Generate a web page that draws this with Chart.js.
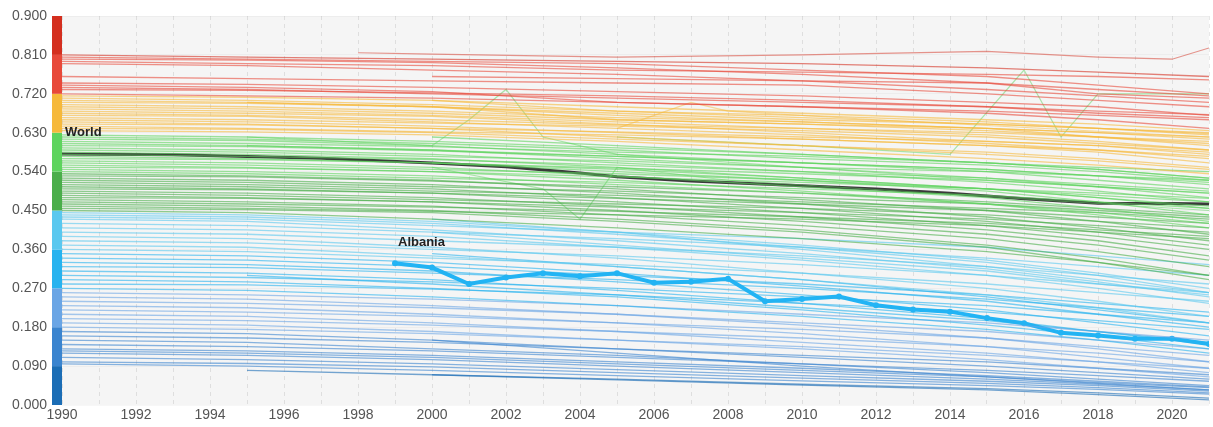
<!DOCTYPE html>
<html>
<head>
<meta charset="utf-8">
<script src="https://cdn.jsdelivr.net/npm/chart.js@4.4.1/dist/chart.umd.min.js"></script>
<style>
    html, body { margin: 0; padding: 0; background: #fff; }
    #wrap { width: 1213px; height: 427px; }
</style>
</head>
<body>
<div id="wrap"><canvas id="chart" width="1213" height="427"></canvas></div>
<script>
// years at which the background country series are sampled
const KEY_YEARS = [1990, 1995, 2000, 2005, 2010, 2015, 2018, 2021];

const Y_TICKS = [0, 0.09, 0.18, 0.27, 0.36, 0.45, 0.54, 0.63, 0.72, 0.81, 0.9];
const BAND_COLORS = ['#1b6db5', '#3a84cf', '#6aa5e5', '#27b3ef', '#5ac8ef',
                     '#4aae4a', '#5ed45e', '#f6b93b', '#e8493a', '#d42f1f'];

const worldYears = [1990, 1993, 1997, 2000, 2002, 2004, 2005, 2007, 2010, 2012, 2014, 2016, 2018, 2020, 2021];
const worldValues = [0.581, 0.579, 0.571, 0.560, 0.551, 0.537, 0.528, 0.518, 0.507, 0.500, 0.490, 0.477, 0.467, 0.466, 0.465];

const albaniaYears = [1999, 2000, 2001, 2002, 2003, 2004, 2005, 2006, 2007, 2008, 2009, 2010,
                      2011, 2012, 2013, 2014, 2015, 2016, 2017, 2018, 2019, 2020, 2021];
const albaniaValues = [0.328, 0.318, 0.280, 0.295, 0.305, 0.298, 0.305, 0.283, 0.285, 0.292, 0.240, 0.245,
                       0.251, 0.231, 0.221, 0.216, 0.201, 0.189, 0.167, 0.161, 0.153, 0.153, 0.141];

// other countries, values at KEY_YEARS (null = no data yet)
const redCountries = [
    [0.810, 0.805, 0.800, 0.795, 0.790, 0.780, 0.770, 0.760],
    [0.805, 0.800, 0.795, 0.790, 0.775, 0.760, 0.740, 0.720],
    [0.800, 0.798, 0.792, 0.780, 0.765, 0.745, 0.730, 0.715],
    [0.795, 0.790, 0.785, 0.775, 0.770, 0.765, 0.760, 0.752],
    [0.790, 0.785, 0.775, 0.765, 0.750, 0.730, 0.715, 0.700],
    [0.760, 0.755, 0.750, 0.745, 0.740, 0.720, 0.705, 0.690],
    [0.745, 0.742, 0.735, 0.725, 0.715, 0.700, 0.690, 0.670],
    [0.740, 0.735, 0.725, 0.700, 0.690, 0.680, 0.670, 0.660],
    [0.735, 0.730, 0.720, 0.710, 0.700, 0.690, 0.675, 0.665],
    [0.730, 0.728, 0.722, 0.715, 0.705, 0.690, 0.680, 0.672],
    [null, null, 0.760, 0.755, 0.750, 0.745, 0.720, 0.710]
];
const orangeCountries = [
    [0.720, 0.715, 0.710, 0.700, 0.690, 0.675, 0.660, 0.640],
    [0.715, 0.712, 0.705, 0.690, 0.675, 0.660, 0.650, 0.635],
    [0.710, 0.705, 0.695, 0.680, 0.670, 0.655, 0.640, 0.625],
    [0.705, 0.700, 0.690, 0.675, 0.660, 0.650, 0.640, 0.630],
    [0.700, 0.698, 0.690, 0.670, 0.655, 0.640, 0.620, 0.600],
    [0.695, 0.690, 0.680, 0.665, 0.655, 0.640, 0.630, 0.615],
    [0.690, 0.685, 0.675, 0.660, 0.650, 0.635, 0.620, 0.605],
    [0.685, 0.680, 0.670, 0.655, 0.640, 0.625, 0.610, 0.590],
    [0.680, 0.675, 0.668, 0.650, 0.630, 0.610, 0.600, 0.580],
    [0.675, 0.670, 0.660, 0.648, 0.640, 0.630, 0.620, 0.610],
    [0.670, 0.668, 0.655, 0.640, 0.625, 0.605, 0.590, 0.570],
    [0.665, 0.660, 0.652, 0.645, 0.635, 0.620, 0.605, 0.590],
    [0.660, 0.655, 0.645, 0.630, 0.615, 0.600, 0.585, 0.560],
    [0.655, 0.650, 0.640, 0.632, 0.620, 0.610, 0.600, 0.585],
    [0.650, 0.648, 0.640, 0.620, 0.600, 0.580, 0.565, 0.545],
    [0.645, 0.640, 0.632, 0.625, 0.615, 0.600, 0.590, 0.575],
    [0.640, 0.638, 0.630, 0.615, 0.600, 0.585, 0.570, 0.550],
    [0.635, 0.632, 0.625, 0.610, 0.590, 0.570, 0.555, 0.535],
    [null, 0.700, 0.690, 0.660, 0.650, 0.640, 0.630, 0.620],
    [null, null, 0.705, 0.680, 0.665, 0.650, 0.640, 0.628]
];
const greenCountries = [
    [0.625, 0.620, 0.610, 0.595, 0.580, 0.560, 0.545, 0.525],
    [0.620, 0.615, 0.605, 0.590, 0.570, 0.555, 0.540, 0.520],
    [0.615, 0.612, 0.600, 0.580, 0.560, 0.540, 0.520, 0.500],
    [0.610, 0.605, 0.598, 0.585, 0.575, 0.560, 0.550, 0.540],
    [0.605, 0.600, 0.590, 0.570, 0.550, 0.525, 0.505, 0.480],
    [0.600, 0.598, 0.588, 0.575, 0.560, 0.545, 0.530, 0.515],
    [0.595, 0.590, 0.580, 0.560, 0.540, 0.515, 0.495, 0.470],
    [0.590, 0.585, 0.575, 0.565, 0.550, 0.540, 0.530, 0.520],
    [0.585, 0.580, 0.570, 0.550, 0.525, 0.500, 0.480, 0.455],
    [0.580, 0.575, 0.568, 0.555, 0.540, 0.525, 0.510, 0.495],
    [0.575, 0.570, 0.560, 0.540, 0.520, 0.495, 0.470, 0.440],
    [0.570, 0.568, 0.560, 0.548, 0.535, 0.520, 0.505, 0.490],
    [0.565, 0.560, 0.550, 0.530, 0.505, 0.480, 0.455, 0.425],
    [0.560, 0.555, 0.545, 0.535, 0.520, 0.500, 0.485, 0.470],
    [0.555, 0.550, 0.540, 0.520, 0.495, 0.465, 0.440, 0.410],
    [0.550, 0.548, 0.540, 0.528, 0.515, 0.500, 0.490, 0.478],
    [0.545, 0.540, 0.530, 0.510, 0.490, 0.465, 0.445, 0.420],
    [0.540, 0.535, 0.525, 0.515, 0.500, 0.485, 0.470, 0.455],
    [0.535, 0.530, 0.520, 0.500, 0.475, 0.450, 0.425, 0.395],
    [0.530, 0.528, 0.518, 0.505, 0.490, 0.470, 0.455, 0.440],
    [0.525, 0.520, 0.510, 0.490, 0.465, 0.435, 0.410, 0.380],
    [0.520, 0.515, 0.505, 0.495, 0.480, 0.465, 0.450, 0.435],
    [0.515, 0.510, 0.500, 0.480, 0.455, 0.425, 0.400, 0.370],
    [0.510, 0.505, 0.495, 0.485, 0.470, 0.455, 0.445, 0.430],
    [0.505, 0.500, 0.490, 0.470, 0.445, 0.415, 0.390, 0.360],
    [0.500, 0.498, 0.490, 0.478, 0.465, 0.450, 0.435, 0.420],
    [0.495, 0.490, 0.480, 0.460, 0.435, 0.405, 0.380, 0.345],
    [0.490, 0.485, 0.475, 0.465, 0.455, 0.440, 0.425, 0.410],
    [0.485, 0.480, 0.470, 0.450, 0.425, 0.395, 0.370, 0.335],
    [0.480, 0.478, 0.470, 0.458, 0.445, 0.430, 0.415, 0.400],
    [0.475, 0.470, 0.460, 0.440, 0.415, 0.385, 0.355, 0.320],
    [0.470, 0.465, 0.458, 0.448, 0.435, 0.420, 0.405, 0.390],
    [0.465, 0.460, 0.450, 0.430, 0.405, 0.370, 0.340, 0.300],
    [0.460, 0.455, 0.448, 0.440, 0.430, 0.415, 0.400, 0.385],
    [0.455, 0.452, 0.445, 0.425, 0.400, 0.365, 0.330, 0.290],
    [null, 0.600, 0.590, 0.575, 0.560, 0.545, 0.530, 0.510],
    [null, null, 0.560, 0.545, 0.525, 0.500, 0.480, 0.460],
    [null, null, 0.620, 0.600, 0.580, 0.560, 0.545, 0.525]
];
const blueCountries = [
    [0.450, 0.445, 0.430, 0.410, 0.385, 0.355, 0.330, 0.300],
    [0.445, 0.440, 0.425, 0.400, 0.370, 0.335, 0.305, 0.270],
    [0.440, 0.435, 0.420, 0.395, 0.365, 0.330, 0.300, 0.260],
    [0.435, 0.430, 0.415, 0.400, 0.385, 0.365, 0.345, 0.325],
    [0.430, 0.425, 0.405, 0.380, 0.350, 0.315, 0.285, 0.250],
    [0.420, 0.415, 0.400, 0.385, 0.365, 0.340, 0.320, 0.300],
    [0.410, 0.405, 0.390, 0.365, 0.335, 0.300, 0.270, 0.235],
    [0.400, 0.395, 0.380, 0.365, 0.345, 0.320, 0.300, 0.280],
    [0.390, 0.385, 0.365, 0.340, 0.305, 0.270, 0.240, 0.205],
    [0.380, 0.375, 0.360, 0.345, 0.325, 0.300, 0.280, 0.260],
    [0.370, 0.365, 0.345, 0.320, 0.290, 0.255, 0.225, 0.190],
    [0.360, 0.355, 0.340, 0.325, 0.305, 0.280, 0.260, 0.240],
    [0.350, 0.345, 0.330, 0.305, 0.275, 0.240, 0.210, 0.180],
    [0.340, 0.335, 0.320, 0.300, 0.280, 0.255, 0.235, 0.215],
    [0.330, 0.325, 0.310, 0.285, 0.255, 0.220, 0.190, 0.160],
    [0.320, 0.318, 0.305, 0.290, 0.270, 0.245, 0.225, 0.205],
    [0.310, 0.305, 0.290, 0.265, 0.235, 0.200, 0.170, 0.140],
    [0.300, 0.295, 0.285, 0.270, 0.250, 0.230, 0.210, 0.190],
    [0.290, 0.285, 0.270, 0.250, 0.220, 0.185, 0.160, 0.130],
    [0.280, 0.278, 0.268, 0.255, 0.235, 0.215, 0.195, 0.175],
    [0.270, 0.265, 0.250, 0.230, 0.205, 0.175, 0.150, 0.120],
    [0.260, 0.255, 0.245, 0.230, 0.210, 0.190, 0.170, 0.150],
    [0.250, 0.245, 0.230, 0.210, 0.185, 0.155, 0.130, 0.100],
    [0.240, 0.235, 0.225, 0.210, 0.190, 0.170, 0.150, 0.130],
    [0.230, 0.225, 0.210, 0.190, 0.165, 0.135, 0.110, 0.085],
    [0.220, 0.215, 0.205, 0.190, 0.175, 0.155, 0.135, 0.115],
    [0.210, 0.205, 0.190, 0.170, 0.145, 0.120, 0.100, 0.075],
    [0.200, 0.195, 0.185, 0.170, 0.155, 0.135, 0.120, 0.100],
    [0.190, 0.185, 0.170, 0.150, 0.130, 0.105, 0.085, 0.065],
    [0.180, 0.175, 0.165, 0.150, 0.135, 0.115, 0.100, 0.085],
    [0.170, 0.165, 0.150, 0.130, 0.110, 0.090, 0.075, 0.060],
    [0.160, 0.155, 0.145, 0.130, 0.115, 0.100, 0.085, 0.070],
    [0.150, 0.145, 0.130, 0.115, 0.095, 0.075, 0.060, 0.045],
    [0.140, 0.135, 0.125, 0.110, 0.095, 0.080, 0.068, 0.055],
    [0.130, 0.125, 0.115, 0.100, 0.085, 0.068, 0.055, 0.042],
    [0.125, 0.120, 0.110, 0.095, 0.080, 0.065, 0.052, 0.040],
    [0.120, 0.115, 0.105, 0.090, 0.075, 0.060, 0.048, 0.035],
    [0.110, 0.105, 0.095, 0.082, 0.068, 0.055, 0.045, 0.032],
    [0.100, 0.096, 0.088, 0.075, 0.062, 0.050, 0.040, 0.028],
    [0.095, 0.090, 0.080, 0.068, 0.056, 0.045, 0.036, 0.025],
    [null, 0.300, 0.280, 0.255, 0.225, 0.195, 0.170, 0.145],
    [null, null, 0.350, 0.320, 0.290, 0.250, 0.220, 0.190],
    [null, null, 0.150, 0.120, 0.090, 0.065, 0.050, 0.035],
    [null, null, 0.400, 0.370, 0.340, 0.310, 0.280, 0.255],
    [null, null, 0.430, 0.400, 0.360, 0.320, 0.290, 0.260],
    [null, 0.080, 0.070, 0.060, 0.048, 0.038, 0.028, 0.016],
    [null, null, 0.070, 0.058, 0.046, 0.035, 0.024, 0.012]
];
// a few irregular series, as [year, value] pairs
const jumpyCountries = [
    [[1998, 0.815], [2000, 0.812], [2005, 0.805], [2010, 0.810], [2015, 0.818], [2018, 0.805], [2020, 0.800], [2021, 0.826]],
    [[1995, 0.620], [2000, 0.600], [2001, 0.660], [2002, 0.730], [2003, 0.620], [2005, 0.580], [2010, 0.550], [2015, 0.520], [2021, 0.490]],
    [[2005, 0.620], [2010, 0.600], [2014, 0.580], [2016, 0.775], [2017, 0.620], [2018, 0.720], [2021, 0.720]],
    [[2000, 0.550], [2003, 0.500], [2004, 0.430], [2005, 0.550], [2008, 0.520], [2021, 0.450]],
    [[2005, 0.640], [2007, 0.700], [2008, 0.680], [2012, 0.660], [2021, 0.620]]
];

function bandColor(v, alpha) {
    const i = Math.max(0, Math.min(BAND_COLORS.length - 1, Math.floor(v / 0.09 + 1e-9)));
    const hex = BAND_COLORS[i];
    const r = parseInt(hex.slice(1, 3), 16), g = parseInt(hex.slice(3, 5), 16), b = parseInt(hex.slice(5, 7), 16);
    return 'rgba(' + r + ',' + g + ',' + b + ',' + alpha + ')';
}

const datasets = [];
[redCountries, orangeCountries, greenCountries, blueCountries].forEach(group => {
    group.forEach(row => {
        const pts = [];
        row.forEach((v, i) => { if (v !== null) pts.push({ x: KEY_YEARS[i], y: v }); });
        datasets.push({ data: pts, borderColor: bandColor(pts[0].y, 0.6), borderWidth: 1.3, pointRadius: 0 });
    });
});
jumpyCountries.forEach(row => {
    const pts = row.map(p => ({ x: p[0], y: p[1] }));
    datasets.push({ data: pts, borderColor: bandColor(pts[0].y, 0.5), borderWidth: 1.2, pointRadius: 0 });
});
datasets.push({
    label: 'World',
    data: worldYears.map((y, i) => ({ x: y, y: worldValues[i] })),
    borderColor: '#3a3a3a', borderWidth: 3, pointRadius: 0
});
datasets.push({
    label: 'Albania',
    data: albaniaYears.map((y, i) => ({ x: y, y: albaniaValues[i] })),
    borderColor: '#22b4f5', backgroundColor: '#22b4f5', borderWidth: 4,
    pointRadius: 3, pointBorderWidth: 0
});

const areaPlugin = {
    id: 'area',
    beforeDraw(chart) {
        const { ctx, chartArea } = chart;
        ctx.save();
        ctx.fillStyle = '#f5f5f5';
        ctx.fillRect(chartArea.left, chartArea.top, chartArea.right - chartArea.left, chartArea.bottom - chartArea.top);
        ctx.restore();
    },
    afterDraw(chart) {
        const { ctx, chartArea } = chart;
        const y = chart.scales.y;
        ctx.save();
        // colour key strip
        for (let i = 0; i < BAND_COLORS.length; i++) {
            const top = y.getPixelForValue(Y_TICKS[i + 1]);
            const bottom = y.getPixelForValue(Y_TICKS[i]);
            ctx.fillStyle = BAND_COLORS[i];
            ctx.fillRect(chartArea.left - 10, top, 10, bottom - top);
        }
        // series names
        ctx.font = 'bold 13px "Liberation Sans", Arial, sans-serif';
        ctx.fillStyle = '#222';
        ctx.textBaseline = 'middle';
        chart.data.datasets.forEach((ds, i) => {
            if (!ds.label) return;
            const pt = chart.getDatasetMeta(i).data[0];
            ctx.fillText(ds.label, pt.x + 3, pt.y - 21);
        });
        ctx.restore();
    }
};

new Chart(document.getElementById('chart'), {
    type: 'line',
    data: { datasets: datasets },
    options: {
        responsive: false,
        animation: false,
        layout: { padding: { top: 16, right: -4, left: 0, bottom: 0 } },
        plugins: { legend: { display: false }, tooltip: { enabled: false } },
        elements: { line: { tension: 0 } },
        scales: {
            x: {
                type: 'linear',
                min: 1990,
                max: 2021,
                border: { display: false, dash: [4, 4] },
                grid: { color: 'rgba(0,0,0,0.09)', drawTicks: false },
                afterBuildTicks(scale) {
                    const t = [];
                    for (let yr = 1990; yr <= 2021; yr++) t.push({ value: yr });
                    scale.ticks = t;
                },
                afterFit(scale) {
                    scale.height = 22;
                    scale.paddingLeft = 0;
                    scale.paddingRight = 0;
                },
                ticks: {
                    padding: 2,
                    maxRotation: 0,
                    autoSkip: false,
                    color: '#555',
                    font: { family: '"Liberation Sans", Arial, sans-serif', size: 14 },
                    callback: v => (v % 2 === 0 ? String(v) : '')
                }
            },
            y: {
                min: 0,
                max: 0.9,
                border: { display: false },
                grid: { color: 'rgba(0,0,0,0.03)', drawTicks: false },
                afterBuildTicks(scale) { scale.ticks = Y_TICKS.map(v => ({ value: v })); },
                afterFit(scale) {
                    scale.width = 62;
                    scale.paddingTop = 0;
                    scale.paddingBottom = 0;
                    scale.paddingLeft = 0;
                    scale.paddingRight = 0;
                },
                ticks: {
                    padding: 15,
                    color: '#555',
                    font: { family: '"Liberation Sans", Arial, sans-serif', size: 14 },
                    callback: v => Number(v).toFixed(3)
                }
            }
        }
    },
    plugins: [areaPlugin]
});
</script>
</body>
</html>
